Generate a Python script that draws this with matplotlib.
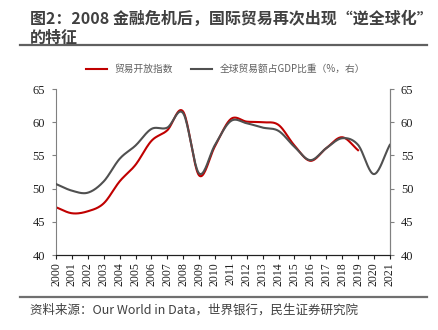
import matplotlib; matplotlib.use("Agg")
import matplotlib.pyplot as plt
import numpy as np

plt.rcParams['font.family'] = ['Noto Sans CJK SC', 'DejaVu Sans']

years = list(range(2000, 2022))
openness = [47.2, 46.3, 46.6, 47.8, 51.1, 53.6, 57.2, 58.8, 61.6, 52.0, 56.4,
            60.5, 60.1, 60.0, 59.6, 56.5, 54.2, 56.1, 57.75, 55.8]
trade_gdp = [50.7, 49.7, 49.4, 51.1, 54.5, 56.5, 59.0, 59.2, 61.35, 52.3, 56.6,
             60.2, 59.85, 59.2, 58.7, 56.3, 54.3, 56.1, 57.6, 56.6, 52.2, 56.6]
yticks = [40, 45, 50, 55, 60, 65]


def smooth(x, y, n=20):
    # Catmull-Rom, close to Excel's "smoothed line"
    x = np.asarray(x, float); y = np.asarray(y, float)
    px = np.concatenate([[2 * x[0] - x[1]], x, [2 * x[-1] - x[-2]]])
    py = np.concatenate([[2 * y[0] - y[1]], y, [2 * y[-1] - y[-2]]])
    xs, ys = [], []
    t = np.linspace(0, 1, n, endpoint=False)
    for i in range(1, len(px) - 2):
        for arr, out in ((px, xs), (py, ys)):
            p0, p1, p2, p3 = arr[i - 1], arr[i], arr[i + 1], arr[i + 2]
            out.extend(0.5 * (2 * p1 + (-p0 + p2) * t + (2 * p0 - 5 * p1 + 4 * p2 - p3) * t ** 2
                              + (-p0 + 3 * p1 - 3 * p2 + p3) * t ** 3))
    xs.append(x[-1]); ys.append(y[-1])
    return xs, ys


fig = plt.figure(figsize=(4.38, 3.3), dpi=100)
ax = fig.add_axes([0.128, 0.227, 0.762, 0.503])
ax2 = ax.twinx()

RED, GRAY = "#C00000", "#505050"
l1, = ax.plot(*smooth(years[:len(openness)], openness), color=RED, lw=1.5, label="贸易开放指数")
l2, = ax2.plot(*smooth(years, trade_gdp), color=GRAY, lw=1.5, label="全球贸易额占GDP比重（%，右）")

for a in (ax, ax2):
    a.set_ylim(40, 65)
    a.set_yticks(yticks)
    a.set_xlim(2000, 2021)
    a.spines["top"].set_visible(False)
    a.spines["left"].set_color("#808080")
    a.spines["right"].set_color("#808080")
    a.spines["bottom"].set_color("#202020")
    a.tick_params(axis="y", direction="out", length=3, color="#808080", pad=5,
                  labelsize=9, labelfontfamily="Liberation Serif", labelcolor="#202020")
ax.set_xticks(years)
ax.set_xticklabels([str(y) for y in years], rotation=90, fontsize=8.5,
                   family="Liberation Serif", color="#202020")
ax.tick_params(axis="x", direction="out", length=3, color="#202020", pad=2)
ax2.spines["left"].set_visible(False)

fig.legend(handles=[l1, l2], loc="center", bbox_to_anchor=(0.515, 0.79), ncol=2,
           frameon=False, fontsize=7, handlelength=2.2, columnspacing=1.8,
           labelcolor="#606060")

fig.text(0.068, 0.945, "图2：2008 金融危机后，国际贸易再次出现“逆全球化”",
         fontsize=11.5, fontweight="bold", color="#404040", va="center")
fig.text(0.068, 0.885, "的特征",
         fontsize=11.5, fontweight="bold", color="#404040", va="center")
fig.add_artist(plt.Line2D([0.046, 0.975], [0.864, 0.864], color="#606060", lw=1.6))
fig.add_artist(plt.Line2D([0.046, 0.975], [0.1, 0.1], color="#707070", lw=1.6))
fig.text(0.068, 0.06, "资料来源：Our World in Data，世界银行，民生证券研究院",
         fontsize=9, color="#404040", va="center")

fig.savefig("out.png", dpi=100)
